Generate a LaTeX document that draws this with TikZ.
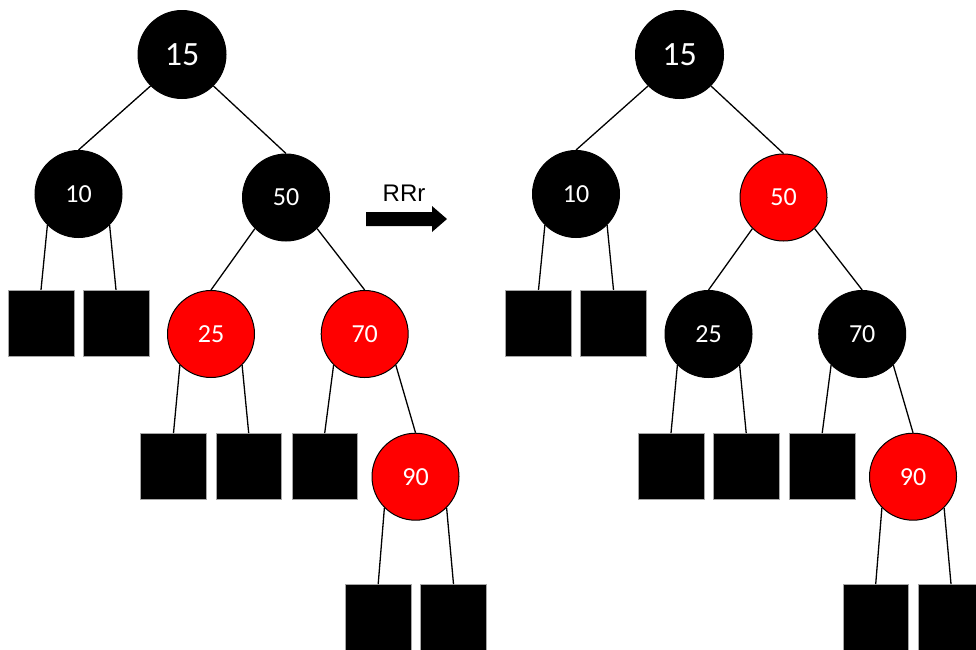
\documentclass[tikz,border=0pt]{standalone}
\usepackage{fontspec}
\setmainfont{Carlito}
\newfontfamily\arialfont{Liberation Sans}

\tikzset{
  rbnode/.style={circle, draw=black, line width=1pt, minimum size=87pt,
    inner sep=0pt, text=white, font=\fontsize{26}{26}\selectfont},
  blk/.style={rbnode, fill=black},
  rd/.style={rbnode, fill=red},
  rootnode/.style={minimum size=88pt, font=\fontsize{34}{34}\selectfont},
  leaf/.style={rectangle, fill=black, draw=gray!70, line width=0.6pt,
    minimum size=65.7pt, inner sep=0pt},
  link/.style={draw=black, line width=1.3pt},
}

\begin{document}
\begin{tikzpicture}[x=1pt,y=-1pt]
\useasboundingbox (0,0) rectangle (976,649);
\clip (0,0) rectangle (976,649);

% tree before the rotation
\node[blk,rootnode] (l15) at (182,54.5) {15};
\node[blk] (l10) at (78.5,194) {10};
\node[blk] (l50) at (286,197.5) {50};
\node[rd] (l25) at (211,334) {25};
\node[rd] (l70) at (364.7,334) {70};
\node[rd] (l90) at (415.5,476.7) {90};
\node[leaf] (la) at (41,323) {};
\node[leaf] (lb) at (116,323) {};
\node[leaf] (lc) at (173.5,466.2) {};
\node[leaf] (ld) at (248.7,466.2) {};
\node[leaf] (le) at (324.7,466.2) {};
\node[leaf] (lf) at (378.2,617.2) {};
\node[leaf] (lg) at (453.5,617.2) {};

\draw[link] (l15.south west) -- (l10.north);
\draw[link] (l15.south east) -- (l50.north);
\draw[link] (l10.south west) -- (la.north);
\draw[link] (l10.south east) -- (lb.north);
\draw[link] (l50.south west) -- (l25.north);
\draw[link] (l50.south east) -- (l70.north);
\draw[link] (l25.south west) -- (lc.north);
\draw[link] (l25.south east) -- (ld.north);
\draw[link] (l70.south west) -- (le.north);
\draw[link] (l70.south east) -- (l90.north);
\draw[link] (l90.south west) -- (lf.north);
\draw[link] (l90.south east) -- (lg.north);

% operation label and arrow
\node[font=\arialfont\fontsize{24}{24}\selectfont, anchor=base, inner sep=0pt]
  (op) at (404,201.7) {RRr};
\fill[black] (366,212) -- (432,212) -- (432,206) -- (447,219)
  -- (432,232) -- (432,226) -- (366,226) -- cycle;

% tree after recolouring
\begin{scope}[xshift=497.5pt]
\node[blk,rootnode] (r15) at (182,54.5) {15};
\node[blk] (r10) at (78.5,194) {10};
\node[rd] (r50) at (286,197.5) {50};
\node[blk] (r25) at (211,334) {25};
\node[blk] (r70) at (364.7,334) {70};
\node[rd] (r90) at (415.5,476.7) {90};
\node[leaf] (ra) at (41,323) {};
\node[leaf] (rb) at (116,323) {};
\node[leaf] (rc) at (173.5,466.2) {};
\node[leaf] (rd) at (248.7,466.2) {};
\node[leaf] (re) at (324.7,466.2) {};
\node[leaf] (rf) at (378.2,617.2) {};
\node[leaf] (rg) at (453.5,617.2) {};

\draw[link] (r15.south west) -- (r10.north);
\draw[link] (r15.south east) -- (r50.north);
\draw[link] (r10.south west) -- (ra.north);
\draw[link] (r10.south east) -- (rb.north);
\draw[link] (r50.south west) -- (r25.north);
\draw[link] (r50.south east) -- (r70.north);
\draw[link] (r25.south west) -- (rc.north);
\draw[link] (r25.south east) -- (rd.north);
\draw[link] (r70.south west) -- (re.north);
\draw[link] (r70.south east) -- (r90.north);
\draw[link] (r90.south west) -- (rf.north);
\draw[link] (r90.south east) -- (rg.north);
\end{scope}
\end{tikzpicture}
\end{document}
